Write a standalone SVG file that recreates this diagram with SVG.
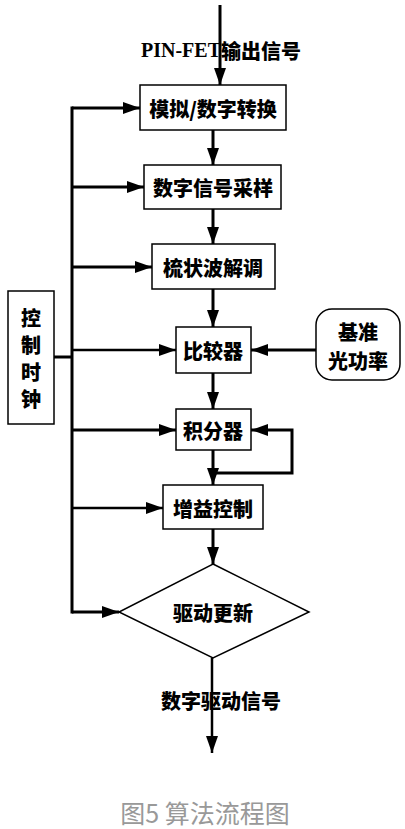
<svg xmlns="http://www.w3.org/2000/svg" width="405" height="829" viewBox="0 0 405 829">
<defs>
<marker id="ah" markerUnits="userSpaceOnUse" markerWidth="17" markerHeight="12" refX="17" refY="6" orient="auto">
<path d="M0,0 L17,6 L0,12 z" fill="#000"/>
</marker>
<style>
.box{fill:#fff;stroke:#000;stroke-width:1.5}
.ln{fill:none;stroke:#000;stroke-width:3}
.br{fill:none;stroke:#000;stroke-width:2.5}
.t{font-family:"Noto Sans CJK SC","Liberation Sans",sans-serif;font-weight:900;font-size:20px;text-anchor:middle;dominant-baseline:central;fill:#000}
.cap{font-family:"Noto Sans CJK SC","Liberation Sans",sans-serif;font-size:25px;text-anchor:middle;dominant-baseline:central;fill:#999}
</style>
</defs>
<rect width="405" height="829" fill="#fff"/>
<g id="connectors">
<line class="ln" x1="220" y1="5" x2="220" y2="85" marker-end="url(#ah)"/>
<line class="ln" x1="213" y1="130" x2="213" y2="165" marker-end="url(#ah)"/>
<line class="ln" x1="213" y1="209" x2="213" y2="244" marker-end="url(#ah)"/>
<line class="ln" x1="213" y1="289" x2="213" y2="327" marker-end="url(#ah)"/>
<line class="ln" x1="213" y1="373" x2="213" y2="409" marker-end="url(#ah)"/>
<line class="ln" x1="213" y1="450" x2="213" y2="485" marker-end="url(#ah)"/>
<line class="ln" x1="213" y1="529" x2="213" y2="564" marker-end="url(#ah)"/>
<line class="br" x1="212" y1="658" x2="212" y2="753" marker-end="url(#ah)"/>
<line class="ln" x1="72" y1="106.5" x2="72" y2="613.5"/>
<line class="ln" x1="54" y1="357" x2="72" y2="357"/>
<line class="ln" x1="72" y1="108" x2="140" y2="108" marker-end="url(#ah)"/>
<line class="ln" x1="72" y1="187" x2="144" y2="187" marker-end="url(#ah)"/>
<line class="ln" x1="72" y1="267" x2="152" y2="267" marker-end="url(#ah)"/>
<line class="br" x1="72" y1="350" x2="176" y2="350" marker-end="url(#ah)"/>
<line class="ln" x1="72" y1="430" x2="176" y2="430" marker-end="url(#ah)"/>
<line class="br" x1="72" y1="508" x2="163" y2="508" marker-end="url(#ah)"/>
<polyline class="ln" points="72,612 119,612" marker-end="url(#ah)"/>
<line class="ln" x1="316" y1="350" x2="251" y2="350" marker-end="url(#ah)"/>
<polyline class="ln" points="213,473 292,473 292,430 251,430" marker-end="url(#ah)"/>
</g>
<g id="label-in"><text class="t" x="221" y="50"><tspan font-family="'Liberation Serif',serif" font-weight="bold">PIN-FET</tspan>输出信号</text></g>
<g id="n-adc"><rect class="box" x="140" y="85" width="146" height="45"/><text class="t" x="213" y="108">模拟/数字转换</text></g>
<g id="n-sample"><rect class="box" x="144" y="165" width="137" height="44"/><text class="t" x="213" y="187">数字信号采样</text></g>
<g id="n-demod"><rect class="box" x="152" y="244" width="123" height="45"/><text class="t" x="213" y="267">梳状波解调</text></g>
<g id="n-comp"><rect class="box" x="176" y="327" width="75" height="46"/><text class="t" x="213" y="350">比较器</text></g>
<g id="n-integ"><rect class="box" x="176" y="409" width="75" height="41"/><text class="t" x="213" y="430">积分器</text></g>
<g id="n-gain"><rect class="box" x="163" y="485" width="100" height="44"/><text class="t" x="213" y="508">增益控制</text></g>
<g id="n-update"><polygon class="box" points="213,564 309,612 213,658 119,612"/><text class="t" x="213" y="612">驱动更新</text></g>
<g id="n-clock"><rect class="box" x="8" y="291" width="46" height="133"/>
<text class="t" x="31" y="317" font-size="19"><tspan x="31" y="317">控</tspan><tspan x="31" y="344">制</tspan><tspan x="31" y="371">时</tspan><tspan x="31" y="398">钟</tspan></text></g>
<g id="n-ref"><rect class="box" x="316" y="309" width="84" height="71" rx="16"/><text class="t" x="358" y="332"><tspan x="358" y="331">基准</tspan><tspan x="358" y="360">光功率</tspan></text></g>
<g id="label-out"><text class="t" x="221" y="700">数字驱动信号</text></g>
<g id="caption"><text class="cap" x="205" y="812">图5 算法流程图</text></g>
</svg>
